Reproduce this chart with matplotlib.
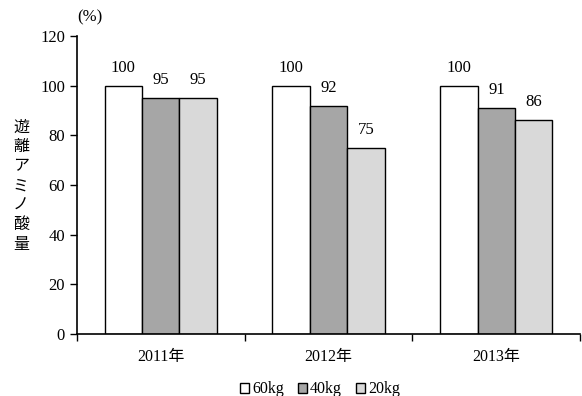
import numpy as np
import matplotlib.pyplot as plt

plt.rcParams['font.family'] = ['Liberation Serif', 'Noto Sans CJK JP']

years = ["2011年", "2012年", "2013年"]
series = ["60kg", "40kg", "20kg"]
values = {
    "60kg": [100, 100, 100],
    "40kg": [95, 92, 91],
    "20kg": [95, 75, 86],
}
colors = ["#ffffff", "#a6a6a6", "#d9d9d9"]

fig = plt.figure(figsize=(5.82, 3.96), dpi=100)
ax = fig.add_axes([0.132, 0.157, 0.865, 0.752])

x = np.arange(len(years))
w = 0.223
for i, s in enumerate(series):
    pos = x + (i - 1) * w
    bars = ax.bar(pos, values[s], w, color=colors[i], edgecolor="black", linewidth=1.0, label=s)
    for b, v in zip(bars, values[s]):
        ax.text(b.get_x() + b.get_width() / 2, v + 4, str(v), ha="center", va="bottom", fontsize=12)

ax.set_xlim(-0.5, 2.5)
ax.set_ylim(0, 120)
ax.set_yticks(range(0, 121, 20))
ax.set_xticks(x)
ax.set_xticklabels(years, fontsize=11.5)
ax.set_xticks([-0.5, 0.5, 1.5, 2.5], minor=True)
ax.tick_params(axis="x", which="major", length=0, pad=11)
ax.tick_params(axis="x", which="minor", length=5, width=1, direction="out")
ax.tick_params(axis="y", length=5, width=1, direction="out", labelsize=12)
ax.spines["top"].set_visible(False)
ax.spines["right"].set_visible(False)
ax.spines["left"].set_linewidth(1.2)
ax.spines["bottom"].set_linewidth(1.2)

fig.text(0.036, 0.53, "遊\n離\nア\nミ\nノ\n酸\n量", ha="center", va="center", fontsize=11.5, linespacing=1.3)
fig.text(0.155, 0.957, "(%)", ha="center", va="center", fontsize=12)

fig.legend(loc="lower center", bbox_to_anchor=(0.55, -0.04), ncol=3, frameon=False, fontsize=11.5,
           handlelength=0.55, handleheight=0.55, handletextpad=0.2, columnspacing=0.9)

fig.savefig("out.png", dpi=100)
